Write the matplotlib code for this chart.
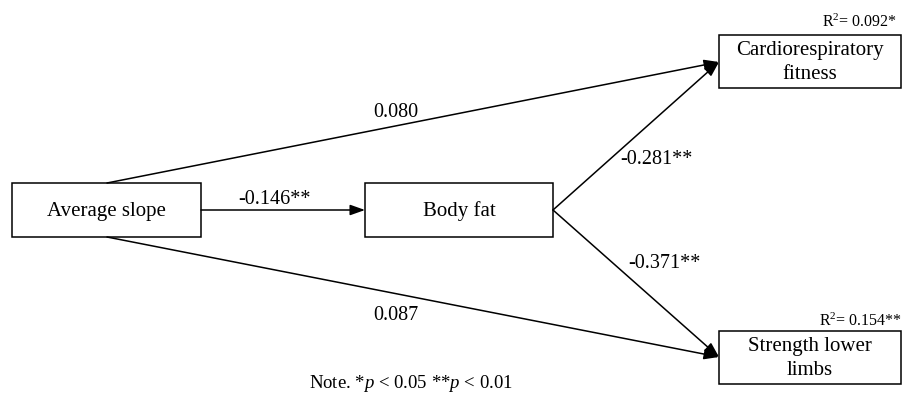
import matplotlib.pyplot as plt
from matplotlib.patches import Rectangle

plt.rcParams['font.family'] = ['Liberation Serif', 'DejaVu Serif']
plt.rcParams['mathtext.fontset'] = 'custom'
plt.rcParams['mathtext.rm'] = 'Liberation Serif'
plt.rcParams['mathtext.it'] = 'Liberation Serif:italic'

# 节点与路径系数
nodes = ["Average slope", "Body fat", "Cardiorespiratory\nfitness", "Strength lower\nlimbs"]
coef_labels = ["0.080", "-0.146**", "-0.281**", "-0.371**", "0.087"]
r2_labels = ["R$^2$= 0.092*", "R$^2$= 0.154**"]
note = "Note. *$\\it{p}$ < 0.05 **$\\it{p}$ < 0.01"

W, H = 903, 394
fig = plt.figure(figsize=(W / 100, H / 100), dpi=100)
ax = fig.add_axes([0, 0, 1, 1])
ax.set_xlim(0, W)
ax.set_ylim(H, 0)
ax.axis("off")

# box layout: x0, y0, x1, y1 in pixel coords
boxes = [(12, 183, 201, 237), (365, 183, 553, 237), (719, 35, 901, 88), (719, 331, 901, 384)]
for (x0, y0, x1, y1), name in zip(boxes, nodes):
    ax.add_patch(Rectangle((x0, y0), x1 - x0, y1 - y0, fill=False, ec="black", lw=1.1))
    ax.text((x0 + x1) / 2, (y0 + y1) / 2 + 1, name, ha="center", va="center", fontsize=15,
            linespacing=1.3)

def arrow(p, q):
    ax.annotate("", xy=q, xytext=p,
                arrowprops=dict(arrowstyle="-|>,head_length=0.9,head_width=0.32",
                                mutation_scale=10, lw=1.1, color="black",
                                shrinkA=0, shrinkB=0))

arrow((107, 183), (719, 62))
arrow((201, 210), (365, 210))
arrow((553, 210), (719, 62))
arrow((553, 210), (719, 357))
arrow((107, 237), (719, 357))

coef_pos = [(396, 112), (275, 199), (656, 159), (664, 263), (396, 315)]
for (x, y), t in zip(coef_pos, coef_labels):
    ax.text(x, y, t, ha="center", va="center", fontsize=14.5)

ax.text(897, 22, r2_labels[0], ha="right", va="center", fontsize=11.5)
ax.text(902, 321, r2_labels[1], ha="right", va="center", fontsize=11.5)

ax.text(411, 384, note, ha="center", va="center", fontsize=13.5)

fig.savefig("out.png", dpi=100)
